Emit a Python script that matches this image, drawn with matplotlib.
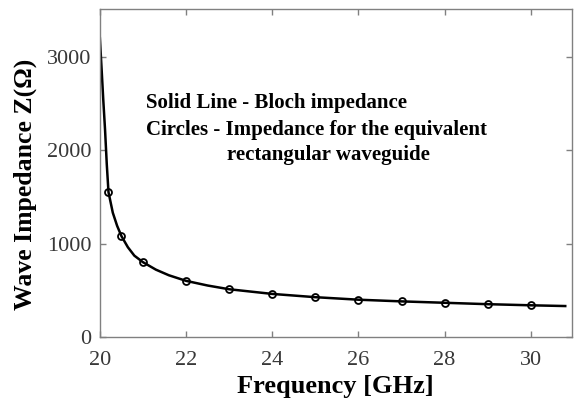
import matplotlib
matplotlib.use("Agg")
import matplotlib.pyplot as plt

# Bloch impedance (solid line)
freq_line = [20.0, 20.04, 20.08, 20.12, 20.16, 20.2, 20.3, 20.4, 20.5, 20.65, 20.8, 21.0,
             21.3, 21.6, 22.0, 22.5, 23.0, 23.5, 24.0, 25.0, 26.0, 27.0, 28.0, 29.0,
             30.0, 30.8]
z_line = [3200, 2870, 2530, 2220, 1850, 1550, 1330, 1190, 1080, 960, 870, 800,
          720, 660, 600, 550, 510, 485, 460, 425, 398, 380, 365, 350,
          338, 330]

# equivalent rectangular waveguide (circles)
freq_circ = [20.2, 20.5, 21, 22, 23, 24, 25, 26, 27, 28, 29, 30]
z_circ = [1550, 1080, 800, 600, 510, 460, 422, 398, 380, 365, 350, 338]

xticks = [20, 22, 24, 26, 28, 30]
yticks = [0, 1000, 2000, 3000]

plt.rcParams['font.family'] = ['Liberation Serif', 'DejaVu Serif']

fig = plt.figure(figsize=(5.74, 4.01), dpi=100)
ax = fig.add_axes([0.174, 0.160, 0.822, 0.818])

ax.plot(freq_line, z_line, color='black', linewidth=1.8)
ax.plot(freq_circ, z_circ, linestyle='none', marker='o', markersize=5,
        markerfacecolor='none', markeredgecolor='black', markeredgewidth=1.3)

ax.set_xlim(20, 30.95)
ax.set_ylim(0, 3515)
ax.set_xticks(xticks)
ax.set_yticks(yticks)

for s in ax.spines.values():
    s.set_color('#808080')
    s.set_linewidth(1.0)
ax.tick_params(direction='in', top=True, right=True, length=4, width=1.0,
               color='#808080', labelsize=16, labelcolor='#383838')
ax.tick_params(axis='x', pad=10)
ax.tick_params(axis='y', pad=6)

ax.set_xlabel('Frequency [GHz]', fontsize=19, fontweight='bold', labelpad=4)
ax.set_ylabel('Wave Impedance Z(\u03a9)', fontsize=18.5, fontweight='bold')
ax.yaxis.set_label_coords(-0.133, 0.466)

ax.text(0.097, 0.698, 'Solid Line - Bloch impedance', transform=ax.transAxes,
        fontsize=15, fontweight='bold')
ax.text(0.097, 0.616, 'Circles - Impedance for the equivalent', transform=ax.transAxes,
        fontsize=15, fontweight='bold')
ax.text(0.27, 0.540, 'rectangular waveguide', transform=ax.transAxes,
        fontsize=15, fontweight='bold')

fig.savefig('out.png', dpi=100)
